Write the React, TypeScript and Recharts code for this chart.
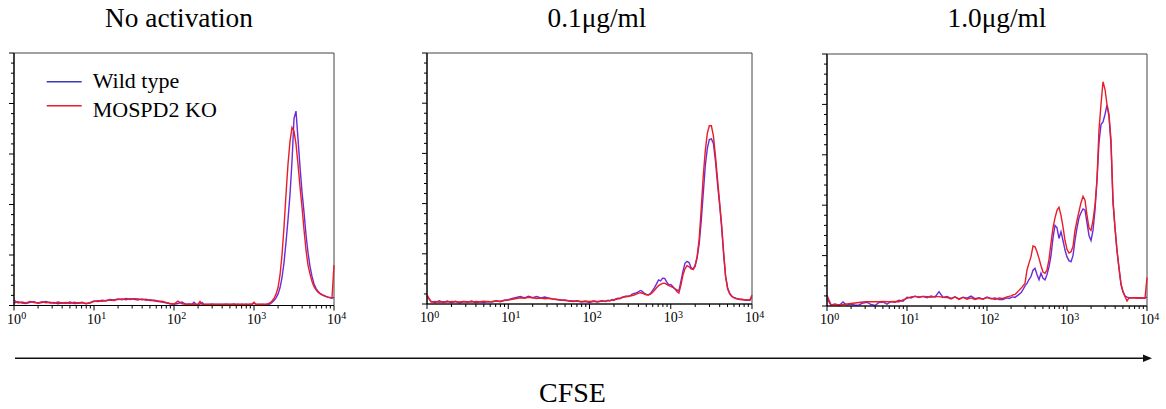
import React from 'react';
import { LineChart, Line, XAxis, YAxis, ReferenceArea, Legend } from 'recharts';

// log10(CFSE) positions shared by all panels
const LOG_X = [
  0, 0.05, 0.1, 0.15, 0.2, 0.25, 0.3, 0.35, 0.4, 0.45,
  0.5, 0.55, 0.6, 0.65, 0.7, 0.75, 0.8, 0.85, 0.9, 0.95,
  1, 1.05, 1.1, 1.15, 1.2, 1.25, 1.3, 1.35, 1.4, 1.45,
  1.5, 1.55, 1.6, 1.65, 1.7, 1.75, 1.8, 1.85, 1.9, 1.95,
  2, 2.05, 2.1, 2.15,
  2.2, 2.225, 2.25, 2.275,
  2.3, 2.325, 2.35, 2.375,
  2.4, 2.425, 2.45, 2.475,
  2.5, 2.525, 2.55, 2.575,
  2.6, 2.625, 2.65, 2.675,
  2.7, 2.725, 2.75, 2.775,
  2.8, 2.825, 2.85, 2.875,
  2.9, 2.925, 2.95, 2.975,
  3.0, 3.025, 3.05, 3.075,
  3.1, 3.125, 3.15, 3.175,
  3.2, 3.225, 3.25, 3.275,
  3.3, 3.325, 3.35, 3.375,
  3.4, 3.425, 3.45, 3.475,
  3.5, 3.525, 3.55, 3.575,
  3.6, 3.625, 3.65, 3.675,
  3.7, 3.725, 3.75, 3.775,
  3.8, 3.825, 3.85, 3.875,
  3.9, 3.925, 3.95, 3.975,
  4.0,
];

// Panel 1: No activation
const P1_WT = [
  1.0, 1.5, 1.0, 0.8, 1.3, 1.5, 0.9, 1.2, 1.6, 1.0,
  1.2, 0.7, 1.1, 0.9, 1.4, 0.8, 0.9, 1.3, 0.7, 1.1,
  1.8, 1.6, 2.1, 1.8, 2.4, 2.2, 2.6, 2.3, 2.8, 2.4,
  2.7, 2.6, 2.3, 2.5, 2.0, 2.1, 1.8, 1.4, 1.1, 0.7,
  0.5, 0.8, 1.4, 0.5,
  0.6, 0.5, 1.3, 0.5,
  0.4, 0.6, 1.2, 0.5,
  0.4, 0.5, 0.4, 0.6,
  0.4, 0.5, 0.4, 0.5,
  0.4, 0.5, 0.4, 0.5,
  0.4, 0.5, 0.6, 0.4,
  0.5, 0.4, 0.5, 0.4,
  0.5, 0.4, 0.5, 0.4,
  0.9, 0.5, 0.4, 0.5,
  0.4, 0.5, 0.4, 0.5,
  0.6, 1.2, 2.0, 3.0,
  4.5, 7, 11, 17,
  25, 34, 44, 57,
  74, 77, 66, 55,
  45, 37, 28, 21,
  15.5, 11.5, 8.5, 6.8,
  5.6, 4.8, 4.3, 4.0,
  3.6, 3.3, 3.0, 2.9,
  3.2,
];
const P1_KO = [
  2.2, 1.0, 1.4, 1.0, 1.6, 1.2, 1.0, 1.5, 1.1, 1.3,
  0.9, 1.4, 1.0, 1.2, 0.8, 1.3, 1.0, 1.1, 0.8, 1.0,
  1.6, 1.9, 1.7, 2.0, 2.2, 2.0, 2.4, 2.6, 2.3, 2.7,
  2.5, 2.2, 2.6, 2.1, 2.3, 1.9, 1.6, 1.7, 1.2, 0.8,
  0.6, 1.7, 0.7, 0.5,
  0.5, 0.4, 0.6, 0.4,
  0.5, 1.6, 0.5, 0.4,
  0.5, 0.4, 0.5, 0.4,
  0.5, 0.4, 0.5, 0.4,
  0.5, 0.4, 0.6, 0.4,
  0.5, 0.4, 0.5, 0.4,
  0.5, 0.4, 0.5, 0.4,
  0.5, 0.4, 0.5, 0.6,
  1.3, 0.4, 0.5, 0.4,
  0.5, 0.4, 0.5, 0.7,
  1.0, 1.8, 2.8, 4.5,
  7, 12, 20, 31,
  44, 56, 65, 70.5,
  69, 64, 56, 47,
  39, 30, 22, 16,
  12.5, 9.5, 7.5, 6.2,
  5.3, 4.7, 4.2, 3.8,
  3.5, 3.3, 3.2, 3.0,
  16,
];

// Panel 2: 0.1 µg/ml
const P2_WT = [
  3.0, 1.0, 0.5, 1.3, 0.6, 1.2, 0.5, 1.1, 0.4, 1.0,
  0.7, 1.2, 0.5, 0.9, 0.6, 1.0, 0.8, 1.3, 0.9, 1.5,
  1.7, 2.2, 2.6, 3.0, 2.4, 3.1, 2.5, 3.0, 2.4, 2.8,
  2.3, 2.0, 1.8, 1.5, 1.6, 1.2, 1.0, 1.3, 0.8, 1.1,
  0.6, 1.2, 0.8, 1.3,
  1.0, 1.5, 1.2, 1.8,
  1.4, 2.0, 2.3, 2.1,
  2.6, 2.9, 3.1, 3.0,
  3.3, 3.9, 4.2, 4.4,
  4.8, 5.4, 5.0, 4.2,
  3.8, 3.7, 4.1, 5.3,
  6.5, 8.0, 9.6, 9.2,
  10.3, 10.2, 8.8, 7.6,
  7.8, 7.0, 6.0, 5.6,
  5.2, 9.0, 13.0, 16.2,
  17.0, 16.5, 14.5, 13.8,
  15.0, 18.5, 24, 33,
  44, 55, 62, 65.5,
  65.8, 64, 57, 48,
  40, 31, 20, 11,
  6.5, 4.3, 3.2, 2.6,
  2.3, 2.1, 1.8, 1.9,
  1.7, 1.5, 1.6, 1.5,
  2.8,
];
const P2_KO = [
  3.6, 0.8, 1.0, 0.7, 0.9, 0.8, 1.0, 0.9, 0.8, 1.0,
  0.9, 0.8, 1.0, 0.9, 1.1, 0.9, 1.0, 1.2, 1.1, 1.4,
  1.6, 1.9, 2.2, 2.5, 2.3, 2.7, 2.5, 2.2, 2.4, 2.1,
  2.3, 2.0, 1.8, 1.6, 1.4, 1.3, 1.2, 1.1, 1.0, 1.1,
  1.0, 1.1, 1.0, 1.1,
  1.2, 1.3, 1.4, 1.5,
  1.7, 1.9, 2.1, 2.3,
  2.6, 2.8, 3.0, 3.1,
  3.2, 3.4, 3.6, 3.9,
  4.2, 4.5, 4.3, 3.9,
  3.7, 3.6, 3.9, 4.6,
  5.5, 6.5, 7.3, 7.8,
  8.2, 8.3, 7.8, 7.3,
  7.0, 6.6, 6.2, 5.0,
  4.4, 7.5, 11.5, 14,
  15.3, 14.8, 14.0, 13.8,
  15.5, 19, 26, 38,
  51, 61, 68, 71,
  71, 67, 59, 50,
  41, 32, 21, 11,
  6, 4, 3.0, 2.5,
  2.2, 2.0, 1.9, 1.8,
  1.7, 1.6, 1.6, 1.7,
  3.6,
];

// Panel 3: 1.0 µg/ml
const P3_WT = [
  3.0, 0.2, 0.8, 0.1, 1.6, 0.3, 0.8, 0.3, 0.4, 1.2,
  1.5, 0.6, 0.2, 1.4, 1.6, 0.7, 1.8, 1.5, 2.3, 1.9,
  3.5, 3.2, 3.9, 3.4, 3.8, 3.3, 4.0, 3.5, 5.7, 3.4,
  3.8, 3.0, 3.6, 2.8, 3.5, 3.1, 3.9, 2.9, 3.3, 2.7,
  3.6, 2.9, 3.2, 2.6,
  2.6, 2.9, 3.2, 3.0,
  3.3, 3.6, 3.4, 4.0,
  4.6, 5.2, 6.5, 8.0,
  9.0, 10.5, 11.7, 14.2,
  15.0, 12.5, 10.4, 13.0,
  11.0, 10.4, 12.5, 15.5,
  20, 27, 32, 31,
  26.8, 29.5, 26, 22.2,
  19.5, 18, 17.6, 20,
  26, 31, 35, 37,
  38.5, 38, 33, 28,
  26, 30, 38, 50,
  65, 72, 73, 76,
  79.8, 75, 64, 41,
  31, 22, 15, 8.8,
  5.8, 4.0, 3.5, 3.3,
  3.2, 3.3, 3.3, 3.2,
  3.3, 3.2, 3.1, 3.2,
  3.5,
];
const P3_KO = [
  4.3, 0.5, 0.6, 0.5, 0.6, 0.8, 1.0, 1.2, 1.4, 1.6,
  1.7, 1.7, 1.7, 1.7, 1.8, 1.7, 1.7, 1.8, 1.7, 2.4,
  3.0, 3.6, 3.8, 3.6, 3.8, 3.7, 3.5, 3.8, 3.7, 3.5,
  3.4, 2.8, 3.6, 2.6, 3.4, 2.7, 3.2, 2.6, 3.0, 2.8,
  3.3, 3.0, 2.6, 3.2,
  3.0, 3.3, 3.6, 3.8,
  4.0, 4.4, 4.6, 5.4,
  6.2, 7.0, 8.0, 9.0,
  14.3, 17, 19.6, 23.8,
  23.5, 21.5, 18.9, 16,
  13.5, 13, 14.3, 18.5,
  25, 31, 35, 38,
  39.2, 36, 31.4, 26,
  22.5, 21, 21.5, 23.6,
  30, 34, 37.5, 41,
  43.5, 42, 36, 31,
  30, 34, 40, 50,
  70, 80, 89, 86,
  80, 76, 66, 42,
  31, 22, 15, 8.5,
  5.5, 3.8, 2.0, 3.2,
  3.3, 3.3, 3.2, 3.3,
  3.2, 3.3, 3.2, 3.1,
  11.3,
];

const PANEL_TITLES = ['No activation', '0.1\u03BCg/ml', '1.0\u03BCg/ml'];
const SERIES_NAMES = ['Wild type', 'MOSPD2 KO'];
const AXIS_LABEL = 'CFSE';
const DECADES = [0, 1, 2, 3, 4];
const MINOR_MULT = [2, 3, 4, 5, 6, 7, 8, 9];
const Y_TICKS = [0, 4, 8, 12, 16, 20, 24, 28, 32, 36, 40, 44, 48, 52, 56, 60, 64, 68, 72, 76, 80, 84, 88, 92, 96, 100];

const X_TICKS = [
  ...DECADES,
  ...DECADES.slice(0, 4).flatMap((d) => MINOR_MULT.map((m) => d + Math.log10(m))),
].sort((a, b) => a - b);

const WT_COLOR = '#6a2bd8';
const WT_LEGEND = '#3a38bc';
const KO_COLOR = '#ea1c26';
const FONT = "'Liberation Serif', 'Times New Roman', serif";

const YW = 20;
const MT = 10;
const MR = 25;
const XH = 30;

const PANELS = [
  { left: 14, top: 53, w: 320, h: 252.5, wt: P1_WT, ko: P1_KO, titleX: 179, legend: true },
  { left: 427, top: 53, w: 325, h: 251, wt: P2_WT, ko: P2_KO, titleX: 597, legend: false },
  { left: 827, top: 54, w: 320, h: 252, wt: P3_WT, ko: P3_KO, titleX: 997, legend: false },
];

const XTick = (props: any) => {
  const { x, y, payload } = props;
  const v = payload.value as number;
  const dec = DECADES.find((d) => Math.abs(d - v) < 1e-6);
  const major = dec !== undefined;
  return (
    <g>
      <line x1={x} x2={x} y1={y} y2={y + (major ? 5 : 3)} stroke="#000" strokeWidth={1} />
      {major && (
        <>
          <text x={x} y={y + 18} textAnchor="middle" fontSize={14} fontFamily={FONT} fill="#000">10</text>
          <text x={x + 7.2} y={y + 13.5} textAnchor="start" fontSize={10} fontFamily={FONT} fill="#000">{dec}</text>
        </>
      )}
    </g>
  );
};

const YTick = (props: any) => {
  const { x, y, payload } = props;
  const major = (payload.value as number) % 20 === 0;
  return <line x1={x - (major ? 5 : 3)} x2={x} y1={y} y2={y} stroke="#000" strokeWidth={1} />;
};

const LegendContent = () => (
  <svg width={200} height={64} style={{ display: 'block' }}>
    <line x1={2.7} x2={37.7} y1={18.7} y2={18.7} stroke={WT_LEGEND} strokeWidth={1.6} />
    <text x={48.7} y={25.3} fontSize={22} fontFamily={FONT} fill="#000">{SERIES_NAMES[0]}</text>
    <line x1={2.7} x2={37.7} y1={42.7} y2={42.7} stroke={KO_COLOR} strokeWidth={1.6} />
    <text x={48.7} y={54.3} fontSize={22} fontFamily={FONT} fill="#000">{SERIES_NAMES[1]}</text>
  </svg>
);

function Panel({ p }: { p: (typeof PANELS)[number] }) {
  const data = LOG_X.map((x, i) => ({ x, wt: p.wt[i], ko: p.ko[i] }));
  const W = YW + p.w + MR;
  const H = MT + p.h + XH;
  return (
    <div style={{ position: 'absolute', left: p.left - YW, top: p.top - MT, width: W, height: H }}>
      <LineChart width={W} height={H} data={data} margin={{ top: MT, right: MR, bottom: 0, left: 0 }}>
        <XAxis
          dataKey="x"
          type="number"
          domain={[0, 4]}
          ticks={X_TICKS}
          interval={0}
          height={XH}
          tickSize={0}
          tickMargin={0}
          tickLine={false}
          tick={<XTick />}
          axisLine={{ stroke: '#000', strokeWidth: 1.2 }}
        />
        <YAxis
          type="number"
          domain={[0, 100]}
          ticks={Y_TICKS}
          interval={0}
          width={YW}
          tickSize={0}
          tickMargin={0}
          tickLine={false}
          tick={<YTick />}
          axisLine={{ stroke: '#000', strokeWidth: 1.2 }}
        />
        <ReferenceArea x1={0} x2={4} y1={0} y2={100} fill="none" stroke="#444" strokeWidth={1} />
        <Line type="linear" dataKey="wt" name={SERIES_NAMES[0]} stroke={WT_COLOR} strokeWidth={1.4} dot={false} isAnimationActive={false} />
        <Line type="linear" dataKey="ko" name={SERIES_NAMES[1]} stroke={KO_COLOR} strokeWidth={1.4} dot={false} isAnimationActive={false} />
        {p.legend && (
          <Legend
            layout="vertical"
            align="center"
            verticalAlign="middle"
            content={<LegendContent />}
            wrapperStyle={{ position: 'absolute', left: 50, top: 20, width: 200, height: 64 }}
          />
        )}
      </LineChart>
    </div>
  );
}

export default function App() {
  return (
    <div style={{ position: 'absolute', left: 0, top: 0, width: 1166, height: 409, background: '#fff', overflow: 'hidden' }}>
      <svg width={1166} height={409} style={{ position: 'absolute', left: 0, top: 0 }}>
        {PANELS.map((p, i) => (
          <text key={i} x={p.titleX} y={27} textAnchor="middle" fontSize={27.3} fontFamily={FONT} fill="#000">
            {PANEL_TITLES[i]}
          </text>
        ))}
        <line x1={15} x2={1146} y1={358.3} y2={358.3} stroke="#111" strokeWidth={1.6} />
        <polygon points="1152,358.3 1143,354.5 1143,362.1" fill="#111" />
        <text x={572.5} y={401.5} textAnchor="middle" fontSize={28} fontFamily={FONT} fill="#000">
          {AXIS_LABEL}
        </text>
      </svg>
      {PANELS.map((p, i) => (
        <Panel key={i} p={p} />
      ))}
    </div>
  );
}
